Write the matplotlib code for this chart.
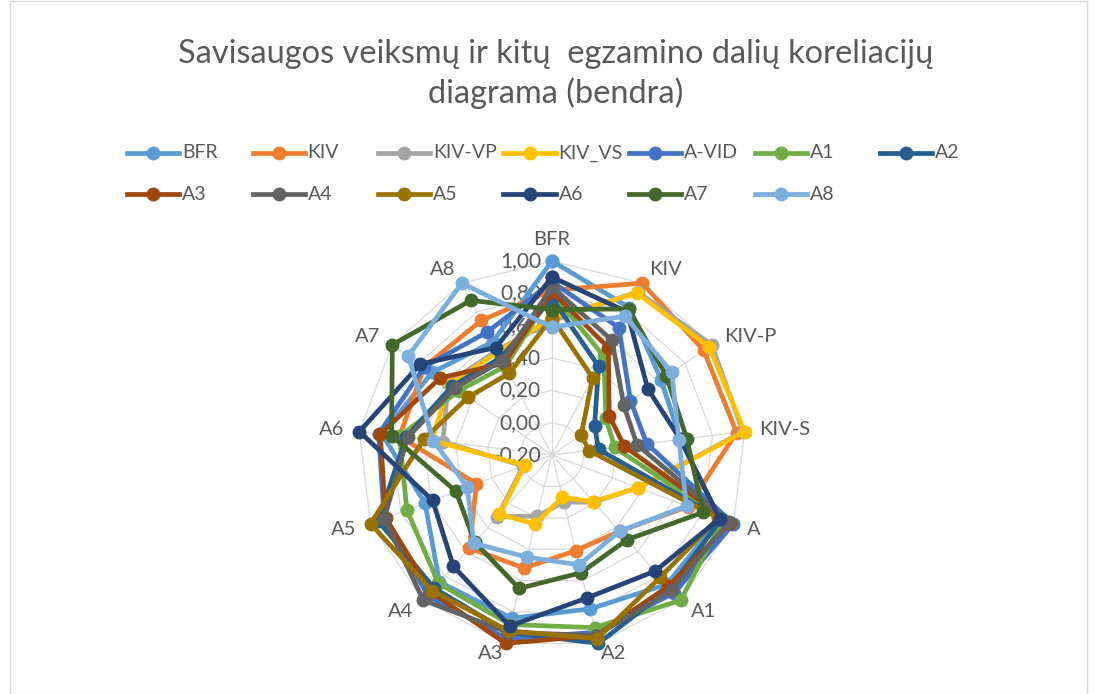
import numpy as np
import matplotlib
matplotlib.use("Agg")
import matplotlib.pyplot as plt
from matplotlib.lines import Line2D
from matplotlib.patches import Rectangle

plt.rcParams['font.family'] = ['Lato', 'DejaVu Sans']

# axes of the radar (categories)
axes_labels = ["BFR", "KIV", "KIV-P", "KIV-S", "A", "A1", "A2", "A3", "A4", "A5", "A6", "A7", "A8"]
tick_values = [-0.2, 0.0, 0.2, 0.4, 0.6, 0.8, 1.0]
tick_labels = ["-0,20", "0,00", "0,20", "0,40", "0,60", "0,80", "1,00"]

# correlation values, one list per series
BFR    = [1.00, 0.83, 0.62, 0.60, 0.91, 0.87, 0.78, 0.84, 0.85, 0.64, 0.86, 0.70, 0.59]
KIV    = [0.82, 1.00, 0.94, 0.95, 0.70, 0.43, 0.41, 0.52, 0.57, 0.30, 0.75, 0.76, 0.74]
KIV_VP = [0.63, 0.94, 1.00, 0.99, 0.37, 0.19, 0.10, 0.19, 0.31, -0.01, 0.48, 0.58, 0.53]
KIV_VS = [0.65, 0.93, 0.98, 1.00, 0.37, 0.185, 0.07, 0.24, 0.29, -0.02, 0.55, 0.57, 0.52]
A_VID  = [0.87, 0.69, 0.39, 0.39, 1.00, 0.94, 0.93, 0.97, 0.96, 0.91, 0.88, 0.76, 0.66]
A1     = [0.80, 0.49, 0.205, 0.19, 0.93, 1.00, 0.90, 0.88, 0.86, 0.76, 0.75, 0.50, 0.42]
A2     = [0.77, 0.42, 0.12, 0.09, 0.92, 0.90, 1.00, 0.93, 0.90, 0.95, 0.71, 0.55, 0.48]
A3     = [0.81, 0.55, 0.23, 0.25, 0.98, 0.885, 0.95, 1.00, 0.93, 0.90, 0.87, 0.64, 0.44]
A4     = [0.84, 0.60, 0.34, 0.33, 0.97, 0.915, 0.95, 0.93, 1.00, 0.91, 0.70, 0.53, 0.46]
A5     = [0.65, 0.34, 0.02, 0.03, 0.90, 0.81, 0.97, 0.92, 0.92, 1.00, 0.60, 0.43, 0.37]
A6     = [0.90, 0.80, 0.52, 0.60, 0.91, 0.76, 0.71, 0.89, 0.72, 0.59, 1.00, 0.79, 0.55]
A7     = [0.70, 0.82, 0.66, 0.64, 0.80, 0.50, 0.55, 0.65, 0.52, 0.435, 0.80, 1.00, 0.88]
A8     = [0.59, 0.77, 0.70, 0.59, 0.69, 0.43, 0.50, 0.45, 0.53, 0.36, 0.54, 0.88, 1.00]

series_names = ["BFR", "KIV", "KIV-VP", "KIV_VS", "A-VID", "A1", "A2", "A3", "A4", "A5", "A6", "A7", "A8"]
series_data = [BFR, KIV, KIV_VP, KIV_VS, A_VID, A1, A2, A3, A4, A5, A6, A7, A8]
colors = ["#5B9BD5", "#ED7D31", "#A5A5A5", "#FFC000", "#4472C4", "#70AD47", "#255E91",
          "#9E480E", "#636363", "#997300", "#264478", "#43682B", "#7CAFDD"]

W, H = 1096, 694
fig = plt.figure(figsize=(W / 100, H / 100), dpi=100)
fig.patch.set_facecolor("white")

# chart border
fig.add_artist(Rectangle((10 / W, 0.5 / H), (1087 - 10) / W, (H - 1) / H, transform=fig.transFigure,
                         fill=False, edgecolor="#D9D9D9", lw=1))

# radar axes, center (552, 455), radius 194 px
cx, cy, R = 552, 455, 194
ax = fig.add_axes([(cx - R) / W, (H - cy - R) / H, 2 * R / W, 2 * R / H], projection="polar")
ax.set_theta_offset(np.pi / 2)
ax.set_theta_direction(-1)
ax.set_ylim(-0.2, 1.0)
ax.set_axis_off()

n = len(axes_labels)
angles = np.arange(n) * 2 * np.pi / n
closed = np.append(angles, angles[0])

grid_col = "#D9D9D9"
for lev in tick_values[1:]:
    ax.plot(closed, [lev] * (n + 1), color=grid_col, lw=0.9, zorder=1, clip_on=False)
for a in angles:
    ax.plot([a, a], [-0.2, 1.0], color=grid_col, lw=0.9, zorder=1, clip_on=False)

txt_col = "#595959"
for v, lbl in zip(tick_values, tick_labels):
    ax.annotate(lbl, xy=(0, v), xytext=(-11, 0), textcoords="offset pixels",
                ha="right", va="center", fontsize=15, color=txt_col, zorder=2)

for a, lbl in zip(angles, axes_labels):
    s, c = np.sin(a), np.cos(a)
    if s > 0.2:
        ha = "left"
    elif s < -0.2:
        ha = "right"
    else:
        ha = "center"
    d = 21 if lbl == "BFR" else 15
    if lbl in ("A2", "A3"):
        ha = "left" if s > 0 else "right"
        d = 10
    ax.annotate(lbl, xy=(a, 1.0), xytext=(d * s, d * c), textcoords="offset pixels",
                ha=ha, va="center", fontsize=14.5, color=txt_col)

for vals, col in zip(series_data, colors):
    ax.plot(closed, vals + [vals[0]], color=col, lw=3.4, marker="o", markersize=9,
            zorder=3, clip_on=False)

# legend, drawn as a grid of 7 columns
x0s = [127 + 125.5 * i for i in range(7)]
rows_y = [153, 194]
for i, (name, col) in enumerate(zip(series_names, colors)):
    r, k = divmod(i, 7)
    x0 = x0s[k]
    y = H - rows_y[r]
    fig.add_artist(Line2D([x0 / W, (x0 + 52) / W], [y / H, y / H], transform=fig.transFigure,
                          color=col, lw=3.4))
    fig.add_artist(Line2D([(x0 + 26) / W], [y / H], transform=fig.transFigure,
                          color=col, marker="o", markersize=9, lw=0))
    fig.text((x0 + 55) / W, y / H, name, ha="left", va="center", fontsize=14, color=txt_col)

fig.text(556 / W, 1 - 74 / H, "Savisaugos veiksmų ir kitų  egzamino dalių koreliacijų\ndiagrama (bendra)",
         ha="center", va="center", fontsize=23.4, color=txt_col, linespacing=1.35)

fig.savefig("out.png", dpi=100)
